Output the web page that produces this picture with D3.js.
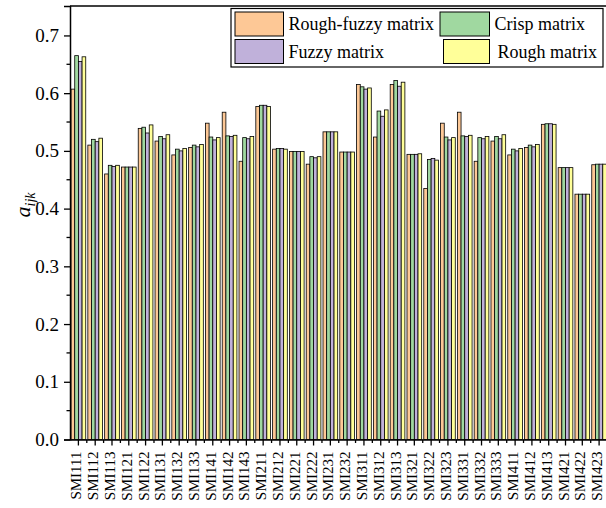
<!DOCTYPE html>
<html>
<head>
<meta charset="utf-8">
<script src="https://cdn.jsdelivr.net/npm/d3@7"></script>
<style>
  html, body { margin: 0; padding: 0; background: #fff; }
  svg { display: block; font-family: "Liberation Serif", "Times New Roman", serif; }
</style>
</head>
<body>
<svg id="chart" width="606" height="508"></svg>
<script>
// Category labels along the x axis
const categories = [
  "SMI111","SMI112","SMI113","SMI121","SMI122","SMI131","SMI132","SMI133",
  "SMI141","SMI142","SMI143","SMI211","SMI212","SMI221","SMI222","SMI231",
  "SMI232","SMI311","SMI312","SMI313","SMI321","SMI322","SMI323","SMI331",
  "SMI332","SMI333","SMI411","SMI412","SMI413","SMI421","SMI422","SMI423"
];

// Series values (a_ijk) per category
const roughFuzzy = [0.607,0.510,0.460,0.472,0.539,0.517,0.493,0.506,0.548,0.567,0.482,0.577,0.503,0.499,0.477,0.533,
                    0.498,0.615,0.524,0.615,0.494,0.435,0.548,0.567,0.482,0.517,0.493,0.506,0.546,0.471,0.425,0.476];
const crisp      = [0.665,0.520,0.475,0.472,0.541,0.525,0.503,0.510,0.524,0.526,0.523,0.579,0.504,0.499,0.490,0.533,
                    0.498,0.611,0.569,0.622,0.494,0.485,0.524,0.526,0.523,0.525,0.503,0.510,0.547,0.471,0.425,0.477];
const fuzzy      = [0.655,0.516,0.473,0.472,0.531,0.521,0.500,0.507,0.519,0.525,0.521,0.579,0.504,0.499,0.488,0.533,
                    0.498,0.607,0.560,0.612,0.494,0.487,0.519,0.525,0.521,0.521,0.500,0.507,0.547,0.471,0.425,0.477];
const rough      = [0.663,0.522,0.475,0.472,0.545,0.528,0.504,0.511,0.523,0.527,0.525,0.577,0.503,0.499,0.490,0.533,
                    0.498,0.609,0.571,0.619,0.495,0.484,0.523,0.527,0.525,0.528,0.504,0.511,0.546,0.471,0.425,0.477];

const seriesNames  = ["Rough-fuzzy matrix", "Crisp matrix", "Fuzzy matrix", "Rough matrix"];
const seriesColors = ["#FDC896", "#A0D8A0", "#C0B1DA", "#FFFF99"];
const seriesValues = [roughFuzzy, crisp, fuzzy, rough];

// Y axis ticks
const yMajorTicks = [0.0, 0.1, 0.2, 0.3, 0.4, 0.5, 0.6, 0.7];
const yMinorTicks = [0.05, 0.15, 0.25, 0.35, 0.45, 0.55, 0.65];

const svg = d3.select("#chart");
const plot = { left: 70, right: 607.5, top: 6, bottom: 439.5 };

const x = d3.scaleBand()
  .domain(categories)
  .range([plot.left, plot.right])
  .paddingInner(0.125)
  .paddingOuter(0.0625);

const xs = d3.scaleBand()
  .domain(seriesNames)
  .range([0, x.bandwidth()])
  .padding(0);

const y = d3.scaleLinear()
  .domain([0, 0.751])
  .range([plot.bottom, plot.top]);

// Bars
const rows = [];
categories.forEach((c, i) => {
  seriesNames.forEach((s, k) => rows.push({ cat: c, series: s, value: seriesValues[k][i], color: seriesColors[k] }));
});

svg.append("g").selectAll("rect")
  .data(rows)
  .join("rect")
  .attr("x", d => x(d.cat) + xs(d.series))
  .attr("y", d => y(d.value))
  .attr("width", xs.bandwidth())
  .attr("height", d => y(0) - y(d.value))
  .attr("fill", d => d.color)
  .attr("stroke", "#000")
  .attr("stroke-width", 0.8);

// Frame (top line and right edge)
svg.append("line")
  .attr("x1", plot.left).attr("x2", plot.right)
  .attr("y1", plot.top).attr("y2", plot.top)
  .attr("stroke", "#000").attr("stroke-width", 1.5);
svg.append("line")
  .attr("x1", plot.right).attr("x2", plot.right)
  .attr("y1", plot.top).attr("y2", plot.bottom)
  .attr("stroke", "#000").attr("stroke-width", 1.5);

// Y axis
const yAxis = svg.append("g")
  .attr("transform", `translate(${plot.left},0)`)
  .call(d3.axisLeft(y).tickValues(yMajorTicks).tickFormat(d3.format(".1f")).tickSize(6).tickPadding(5));
yAxis.select(".domain").attr("stroke-width", 1.5);
yAxis.selectAll(".tick line").attr("stroke-width", 1.3);
yAxis.selectAll(".tick text")
  .attr("font-family", "Liberation Serif, Times New Roman, serif")
  .attr("font-size", 19).attr("fill", "#000");

svg.append("g").attr("transform", `translate(${plot.left},0)`)
  .selectAll("line").data(yMinorTicks).join("line")
  .attr("x1", -3.5).attr("x2", 0)
  .attr("y1", d => y(d)).attr("y2", d => y(d))
  .attr("stroke", "#000").attr("stroke-width", 1.3);

// X axis
const xAxis = svg.append("g")
  .attr("transform", `translate(0,${plot.bottom})`)
  .call(d3.axisBottom(x).tickSize(6).tickSizeOuter(0));
xAxis.select(".domain").attr("stroke-width", 1.5);
xAxis.selectAll(".tick line").attr("stroke-width", 1.3);
xAxis.selectAll(".tick text")
  .attr("font-family", "Liberation Serif, Times New Roman, serif")
  .attr("font-size", 15).attr("fill", "#000")
  .attr("text-anchor", "end")
  .attr("transform", "rotate(-90)")
  .attr("x", -12).attr("y", 0).attr("dy", "0.2em");

// Minor ticks between categories
const boundaries = categories.slice(1).map(c => x(c) - x.step() * x.paddingInner() / 2);
svg.append("g").attr("transform", `translate(0,${plot.bottom})`)
  .selectAll("line").data(boundaries).join("line")
  .attr("x1", d => d).attr("x2", d => d)
  .attr("y1", 0).attr("y2", 3.5)
  .attr("stroke", "#000").attr("stroke-width", 1.3);

// Y axis title: a_ijk
const yt = svg.append("text")
  .attr("transform", "translate(30,205) rotate(-90)")
  .attr("text-anchor", "middle")
  .attr("font-style", "italic")
  .attr("font-size", 22)
  .attr("fill", "#000");
yt.append("tspan").text("a");
yt.append("tspan").attr("font-size", 14).attr("dy", 5).text("ijk");

// Legend
const legend = svg.append("g");
legend.append("rect")
  .attr("x", 231).attr("y", 8.5).attr("width", 372).attr("height", 58.5)
  .attr("fill", "#fff").attr("stroke", "#000").attr("stroke-width", 1.2);

const legendCols = [235, 440];
const legendSwatchRight = [283.5, 489.5];
const legendRows = [12, 39.5];
seriesNames.forEach((name, k) => {
  const col = k % 2, row = Math.floor(k / 2);
  const sx = (k === 3) ? 443.5 : legendCols[col];
  legend.append("rect")
    .attr("x", sx).attr("y", legendRows[row])
    .attr("width", legendSwatchRight[col] - sx).attr("height", 24)
    .attr("fill", seriesColors[k]).attr("stroke", "#000").attr("stroke-width", 1);
  legend.append("text")
    .attr("x", legendSwatchRight[col] + 5 + (k === 3 ? 3 : 0))
    .attr("y", legendRows[row] + 18)
    .attr("font-size", 18).attr("fill", "#000")
    .text(name);
});
</script>
</body>
</html>
